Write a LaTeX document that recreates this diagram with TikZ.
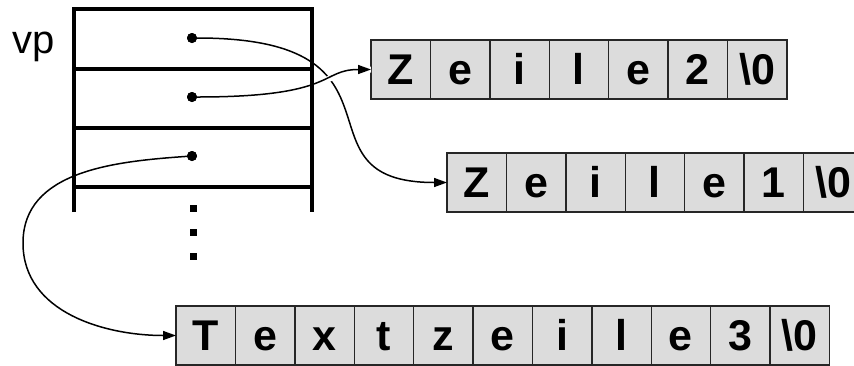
\documentclass[tikz,border=0pt]{standalone}
\usepackage{fontspec}
\setmainfont{Liberation Sans}
\usetikzlibrary{arrows.meta,positioning}
\definecolor{cellgray}{RGB}{220,220,220}

\tikzset{
	cell/.style={draw=black!85, fill=cellgray, line width=1.4pt, minimum width=59.4pt, minimum height=59pt,
		inner sep=0pt, outer sep=0pt, text height=30.8pt, text depth=0pt, font=\fontsize{43}{43}\selectfont\bfseries},
	ptr/.style={line width=1.5pt, -{Triangle[length=13pt,width=9pt]}},
	tableline/.style={line width=3.6pt},
	ptrdot/.style={circle, fill=black, inner sep=0pt, minimum size=10pt},
	moredot/.style={rectangle, fill=black, inner sep=0pt, minimum size=7pt}
}

\begin{document}
\begin{tikzpicture}[x=1pt,y=1pt]
	\useasboundingbox (0,0) rectangle (854,-365);

	% the three strings
	\coordinate (z2-0) at (371,-69.5);
	\coordinate (z1-0) at (447,-182.5);
	\coordinate (t3-0) at (176,-335.5);
	\foreach \ch [count=\i, remember=\i as \j (initially 0)] in {Z,e,i,l,e,2,\textbackslash 0}
		\node[cell, right=0pt of z2-\j] (z2-\i) {\ch};
	\foreach \ch [count=\i, remember=\i as \j (initially 0)] in {Z,e,i,l,e,1,\textbackslash 0}
		\node[cell, right=0pt of z1-\j] (z1-\i) {\ch};
	\foreach \ch [count=\i, remember=\i as \j (initially 0)] in {T,e,x,t,z,e,i,l,e,3,\textbackslash 0}
		\node[cell, right=0pt of t3-\j] (t3-\i) {\ch};

	% pointer slots
	\node[ptrdot] (p1) at (192,-38) {};
	\node[ptrdot] (p2) at (192,-97) {};
	\node[ptrdot] (p3) at (192,-156) {};
	\coordinate (cl) at (23,-243);

	\draw[ptr] (p1) .. controls +(232,0) and +(-160,0) .. (z1-1.west);
	\draw[ptr, preaction={draw=white, line width=6pt, -}] (p2) .. controls +(145,0) and +(-51,0) .. (z2-1.west);
	\draw[ptr] (p3) to[out=184, in=90] (cl) to[out=-90, in=180] (t3-1.west);

	\draw[tableline] (74,-212) -- (74,-9) -- (312,-9) -- (312,-212);
	\foreach \y in {69,128,187}
		\draw[tableline] (74,-\y) -- (312,-\y);
	\foreach \p in {p1,p2,p3}
		\node[ptrdot] at (\p) {};
	\foreach \y [count=\i] in {208,232,256}
		\node[moredot] (v\i) at (193,-\y) {};

	\node[font=\fontsize{40}{40}\selectfont, anchor=base west, inner sep=0pt] (vp) at (12,-53) {vp};
\end{tikzpicture}
\end{document}
